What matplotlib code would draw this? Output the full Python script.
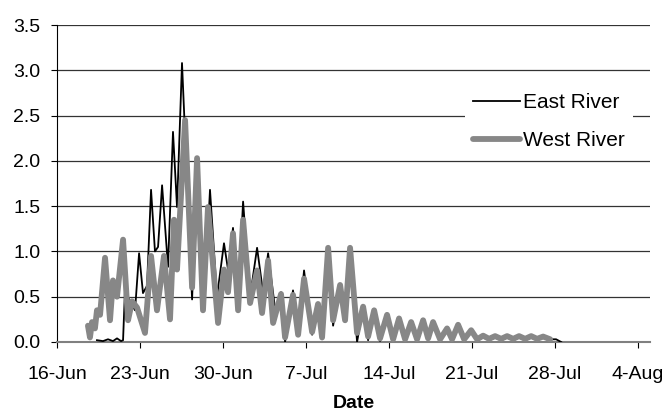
import matplotlib
matplotlib.use("Agg")
import matplotlib.pyplot as plt
import matplotlib.ticker as mticker
import matplotlib.dates as mdates
import pandas as pd

plt.rcParams["font.family"] = ["Liberation Sans", "DejaVu Sans"]

# 日期以 16-Jun 起算的天數表示
start = pd.Timestamp("2003-06-16")

east_days = [3.37, 3.88, 4.30, 4.72, 5.06, 5.40, 5.57, 5.73, 6.16, 6.58, 6.92, 7.25, 7.59,
             7.93, 8.26, 8.52, 8.86, 9.36, 9.78, 10.12, 10.54, 11.39, 11.81, 12.40, 12.90,
             13.49, 14.08, 14.42, 14.84, 15.27, 15.69, 16.28, 16.87, 17.37, 17.80, 18.47,
             18.89, 19.23, 19.90, 20.33, 20.83, 21.51, 22.01, 22.35, 22.86, 23.28, 23.87,
             24.29, 24.71, 25.30, 25.81, 26.23, 26.74, 27.24, 27.83, 28.34, 28.84, 29.35,
             29.86, 30.36, 30.87, 31.29, 31.71, 32.30, 32.89, 33.31, 33.82, 34.33, 34.92,
             35.42, 35.93, 36.43, 36.94, 37.45, 37.95, 38.46, 38.96, 39.47, 39.98, 40.48,
             40.99, 41.58, 42.08, 42.51]
east_vals = [0.02, 0.01, 0.03, 0.01, 0.04, 0.01, 0.02, 0.57, 0.45, 0.35, 0.98, 0.54, 0.62,
             1.68, 1.00, 1.05, 1.73, 0.83, 2.32, 1.49, 3.08, 0.47, 1.95, 0.39, 1.68,
             0.50, 1.09, 0.80, 1.26, 0.46, 1.55, 0.50, 1.04, 0.55, 0.98, 0.28,
             0.55, 0.00, 0.57, 0.10, 0.79, 0.08, 0.40, 0.03, 1.02, 0.18, 0.62,
             0.22, 1.03, 0.00, 0.38, 0.02, 0.34, 0.01, 0.29, 0.01, 0.25, 0.01,
             0.21, 0.01, 0.23, 0.02, 0.21, 0.01, 0.14, 0.01, 0.18, 0.01, 0.13,
             0.02, 0.05, 0.02, 0.05, 0.02, 0.05, 0.02, 0.05, 0.02, 0.05, 0.02,
             0.05, 0.03, 0.03, 0.00]

west_days = [2.61, 2.78, 2.95, 3.20, 3.37, 3.63, 4.05, 4.47, 4.72, 5.06, 5.57, 5.99, 6.33,
             6.75, 7.42, 7.93, 8.43, 9.02, 9.53, 9.87, 10.12, 10.80, 11.39, 11.81, 12.31,
             12.73, 13.58, 14.08, 14.42, 14.84, 15.27, 15.69, 16.28, 16.87, 17.29, 17.80,
             18.22, 18.89, 19.23, 19.90, 20.33, 20.83, 21.51, 22.01, 22.35, 22.86, 23.28,
             23.87, 24.29, 24.71, 25.30, 25.81, 26.23, 26.74, 27.24, 27.83, 28.34, 28.84,
             29.35, 29.86, 30.36, 30.87, 31.29, 31.71, 32.30, 32.89, 33.31, 33.82, 34.33,
             34.92, 35.42, 35.93, 36.43, 36.94, 37.45, 37.95, 38.46, 38.96, 39.47, 39.98,
             40.48, 40.99, 41.58]
west_vals = [0.18, 0.05, 0.22, 0.15, 0.35, 0.30, 0.93, 0.24, 0.68, 0.50, 1.13, 0.24, 0.45,
             0.38, 0.10, 0.95, 0.35, 0.95, 0.25, 1.35, 0.80, 2.45, 0.60, 2.03, 0.35,
             1.49, 0.21, 0.80, 0.55, 1.20, 0.35, 1.35, 0.43, 0.79, 0.32, 0.90,
             0.21, 0.53, 0.05, 0.52, 0.08, 0.70, 0.11, 0.42, 0.05, 1.04, 0.24,
             0.63, 0.24, 1.04, 0.10, 0.39, 0.06, 0.35, 0.04, 0.30, 0.03, 0.26,
             0.03, 0.22, 0.03, 0.24, 0.04, 0.22, 0.03, 0.15, 0.03, 0.19, 0.03,
             0.13, 0.03, 0.07, 0.035, 0.065, 0.035, 0.065, 0.035, 0.065, 0.035, 0.065,
             0.035, 0.06, 0.03]

tick_days = [0, 7, 14, 21, 28, 35, 42, 49]
y_ticks = [0.0, 0.5, 1.0, 1.5, 2.0, 2.5, 3.0, 3.5]

east_t = start + pd.to_timedelta(east_days, unit="D")
west_t = start + pd.to_timedelta(west_days, unit="D")
tick_t = start + pd.to_timedelta(tick_days, unit="D")

fig = plt.figure(figsize=(6.68, 4.13), dpi=100)
ax = fig.add_axes([57 / 668, 1 - 342 / 413, (650 - 57) / 668, (342 - 25) / 413])

ax.plot(east_t, east_vals, color="black", linewidth=1.3, label="East River", zorder=3)
ax.plot(west_t, west_vals, color="#878787", linewidth=4.2, label="West River",
        solid_joinstyle="round", solid_capstyle="round", zorder=4)

ax.set_xlim(start, start + pd.Timedelta(days=50))
ax.set_ylim(0, 3.5)
ax.set_xticks(tick_t)


def date_label(v, pos):
    d = mdates.num2date(v)
    return f"{d.day}-{d.strftime('%b')}"


ax.xaxis.set_major_formatter(mticker.FuncFormatter(date_label))
ax.set_yticks(y_ticks)
ax.yaxis.set_major_formatter(mticker.FormatStrFormatter("%.1f"))

ax.grid(axis="y", color="#333333", linewidth=0.9)
ax.set_axisbelow(True)
for side in ["top", "right"]:
    ax.spines[side].set_visible(False)
ax.spines["left"].set_color("black")
ax.spines["bottom"].set_color("#808080")
ax.spines["bottom"].set_linewidth(1.5)
ax.tick_params(axis="both", direction="out", length=4, labelsize=14, colors="black")
ax.tick_params(axis="y", pad=8)
ax.tick_params(axis="x", pad=13)

ax.set_xlabel("Date", fontsize=14, fontweight="bold", labelpad=9)

leg = ax.legend(loc="center left", bbox_to_anchor=(0.696, 1 - 121.5 / 413),
                bbox_transform=fig.transFigure, fontsize=15, frameon=True,
                facecolor="white", edgecolor="none", framealpha=1, fancybox=False,
                borderaxespad=0, borderpad=0.4, handlelength=2.25, handletextpad=0.15,
                labelspacing=0.9)

fig.savefig("out.png", dpi=100)
